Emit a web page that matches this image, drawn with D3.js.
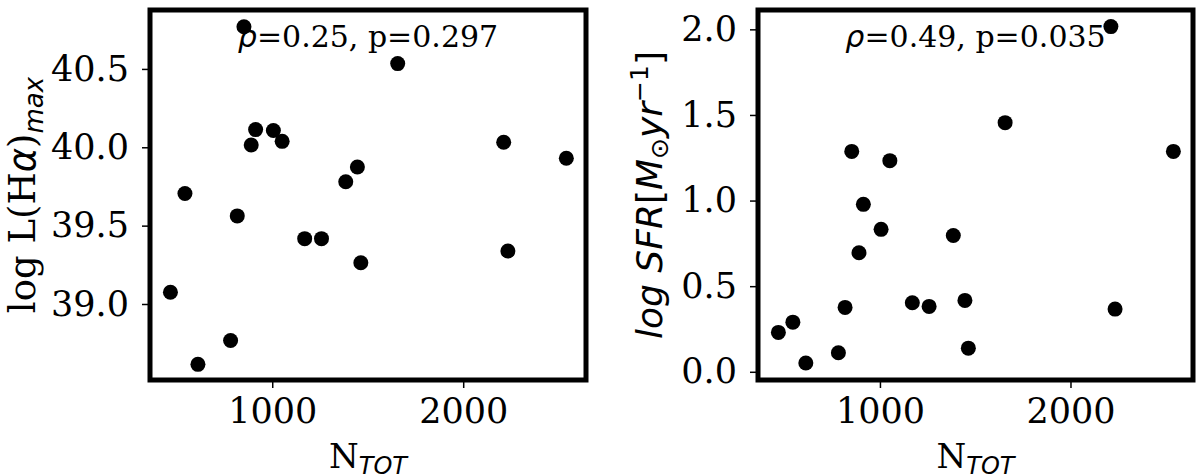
<!DOCTYPE html>
<html>
<head>
<meta charset="utf-8">
<script src="https://cdn.jsdelivr.net/npm/d3@7"></script>
<style>
  html, body { margin: 0; padding: 0; background: #fff; }
  svg { display: block; }
</style>
</head>
<body>
<svg id="chart" width="1200" height="474"></svg>
<script>
// ---- data ----
const nTot   = [467, 543, 611, 782, 817, 852, 890, 913, 1006, 1052, 1170, 1258, 1385, 1446, 1464, 1657, 2212, 2234, 2540];
const logHa  = [39.075, 39.705, 38.615, 38.767, 39.562, 40.769, 40.015, 40.113, 40.107, 40.038, 39.417, 39.417, 39.780, 39.874, 39.263, 40.534, 40.032, 39.338, 39.930];
const logSFR = [0.230, 0.290, 0.051, 0.111, 0.376, 1.287, 0.695, 0.978, 0.832, 1.233, 0.403, 0.382, 0.796, 0.417, 0.138, 1.455, 2.016, 0.366, 1.287];

const xTicks      = [1000, 2000];
const yTicksLeft  = [39.0, 39.5, 40.0, 40.5];
const yTicksRight = [0.0, 0.5, 1.0, 1.5, 2.0];
const xDomain      = [360, 2643];
const yDomainLeft  = [38.515, 40.876];
const yDomainRight = [-0.048, 2.113];
const annotLeft  = ["ρ", "=0.25, p=0.297"];
const annotRight = ["ρ", "=0.49, p=0.035"];

(function () {
  const svg = d3.select("#chart");
  const yTop = 10, yBot = 380;
  const panels = [
    { x0: 150, x1: 586, y: logHa,  yDomain: yDomainLeft,  yTicks: yTicksLeft,  annot: annotLeft,  ylabelX: 35 },
    { x0: 758, x1: 1193, y: logSFR, yDomain: yDomainRight, yTicks: yTicksRight, annot: annotRight, ylabelX: 662 }
  ];
  const serif = "'DejaVu Serif', serif";
  const sans = "'DejaVu Sans', sans-serif";
  const tickFont = 35;

  panels.forEach((p, i) => {
    const x = d3.scaleLinear().domain(xDomain).range([p.x0, p.x1]);
    const y = d3.scaleLinear().domain(p.yDomain).range([yBot, yTop]);
    const g = svg.append("g");

    g.selectAll("circle").data(nTot.map((n, k) => [n, p.y[k]])).join("circle")
      .attr("cx", d => x(d[0])).attr("cy", d => y(d[1])).attr("r", 7.5).attr("fill", "#000");

    const xa = g.append("g").attr("transform", `translate(0,${yBot})`)
      .call(d3.axisBottom(x).tickValues(xTicks).tickSize(8).tickSizeOuter(0).tickPadding(10).tickFormat(d3.format("d")));
    const ya = g.append("g").attr("transform", `translate(${p.x0},0)`)
      .call(d3.axisLeft(y).tickValues(p.yTicks).tickSize(8).tickSizeOuter(0).tickPadding(13).tickFormat(d3.format(".1f")));
    [xa, ya].forEach(a => {
      a.select(".domain").remove();
      a.selectAll("line").attr("stroke", "#000").attr("stroke-width", 1.5);
      a.selectAll("text").attr("fill", "#000").style("font-family", serif).style("font-size", tickFont + "px");
    });

    g.append("rect").attr("x", p.x0).attr("y", yTop).attr("width", p.x1 - p.x0).attr("height", yBot - yTop)
      .attr("fill", "none").attr("stroke", "#000").attr("stroke-width", 5);

    const at = g.append("text").attr("x", (p.x0 + p.x1) / 2).attr("y", 47).attr("text-anchor", "middle")
      .style("font-family", serif).style("font-size", "30px").attr("fill", "#000");
    at.append("tspan").style("font-family", sans).style("font-style", "italic").text(p.annot[0]);
    at.append("tspan").text(p.annot[1]);

    const xl = g.append("text").attr("x", (p.x0 + p.x1) / 2).attr("y", 468).attr("text-anchor", "middle")
      .style("font-family", serif).style("font-size", "34px").attr("fill", "#000");
    xl.append("tspan").text("N");
    xl.append("tspan").attr("dy", 6).style("font-family", sans).style("font-style", "italic").style("font-size", "24px").text("TOT");

    if (i === 0) {
      const yl = g.append("text").attr("transform", `translate(${p.ylabelX},195) rotate(-90)`).attr("text-anchor", "middle")
        .attr("fill", "#000").style("font-size", "37px").style("font-family", serif);
      yl.append("tspan").text("log L(H");
      yl.append("tspan").style("font-family", sans).style("font-style", "italic").text("α");
      yl.append("tspan").text(")");
      yl.append("tspan").attr("dy", 8).style("font-family", sans).style("font-style", "italic").style("font-size", "26px").text("max");
    } else {
      const yl = g.append("text").attr("transform", `translate(${p.ylabelX},195) rotate(-90)`).attr("text-anchor", "middle")
        .attr("fill", "#000").style("font-size", "36px").style("font-family", sans);
      yl.append("tspan").style("font-style", "italic").text("log SFR");
      yl.append("tspan").text("[");
      yl.append("tspan").style("font-style", "italic").text("M");
      yl.append("tspan").attr("dy", 6).style("font-size", "25px").text("⊙");
      yl.append("tspan").attr("dy", -6).style("font-style", "italic").text("yr");
      yl.append("tspan").attr("dy", -14).style("font-size", "25px").text("−1");
      yl.append("tspan").attr("dy", 14).text("]");
    }
  });
})();
</script>
</body>
</html>
